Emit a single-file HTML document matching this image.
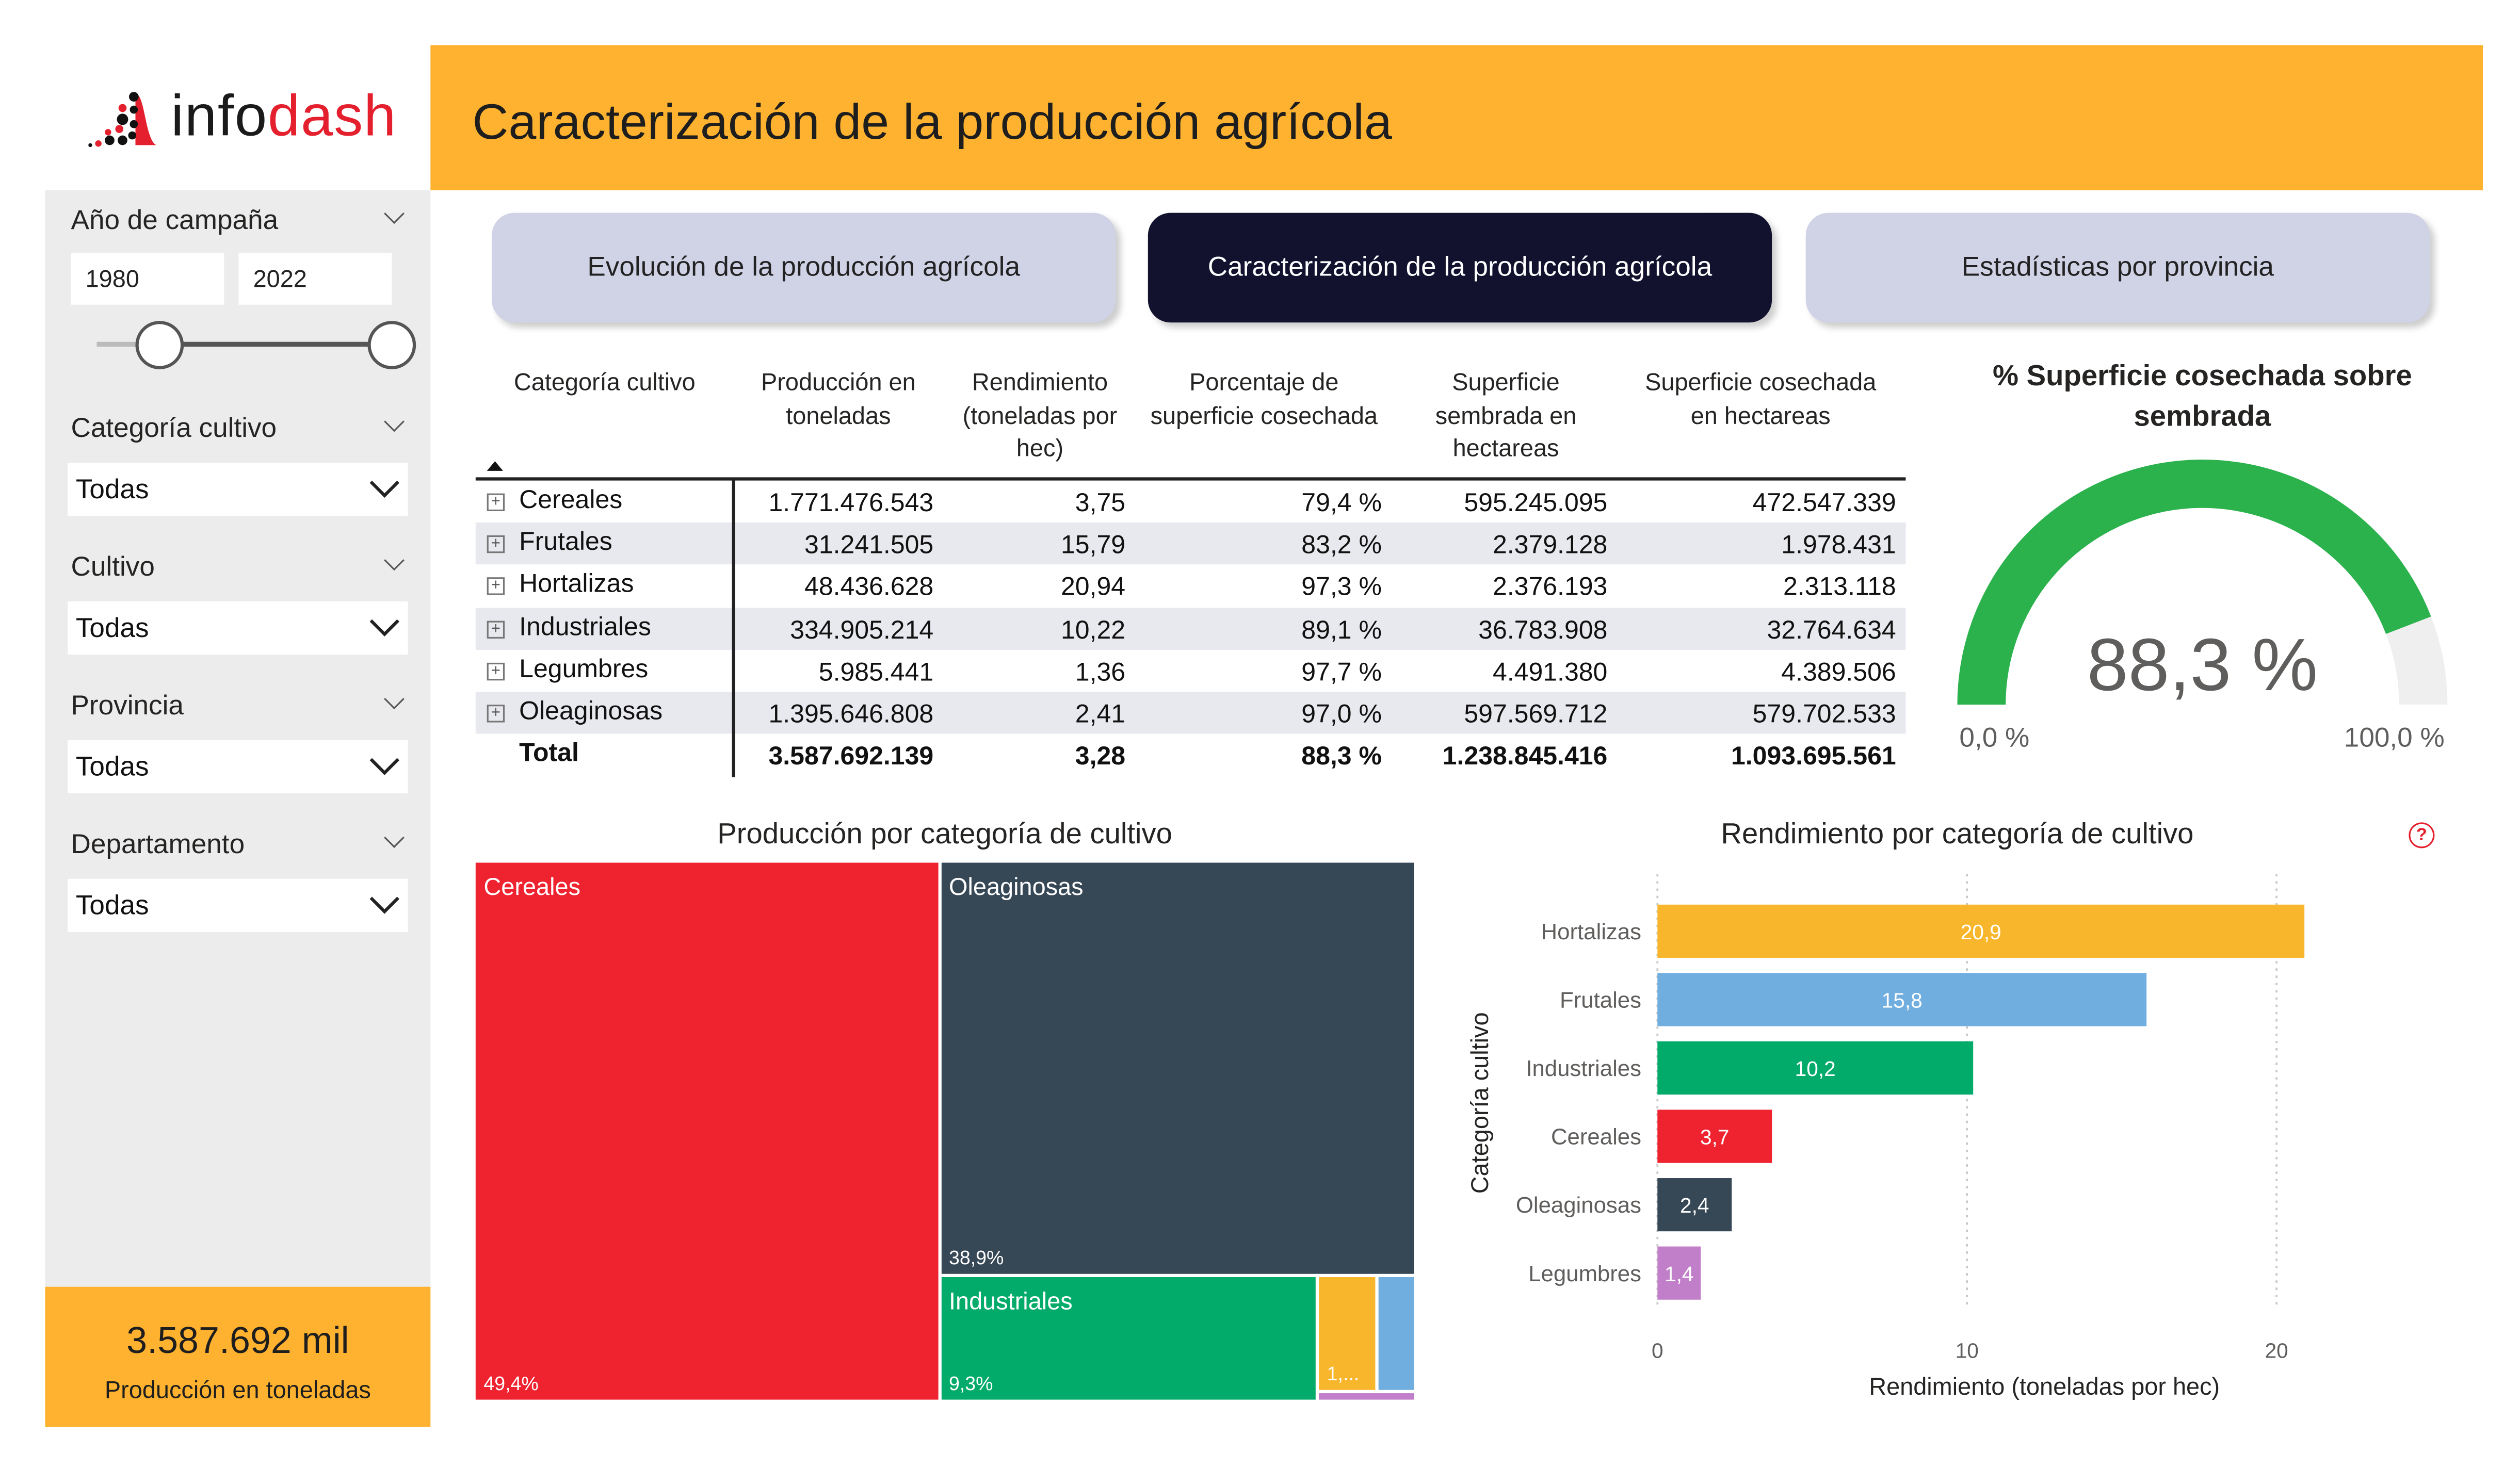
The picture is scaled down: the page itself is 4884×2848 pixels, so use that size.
<!DOCTYPE html>
<html><head><meta charset="utf-8">
<style>
html,body{margin:0;padding:0;width:4884px;height:2848px;overflow:hidden;background:#fff;}
#root{position:absolute;left:0;top:0;width:1563px;height:911px;transform:scale(3.12476,3.12623);transform-origin:0 0;font-family:"Liberation Sans",sans-serif;color:#222;}
.abs{position:absolute;}
.lbl{position:absolute;font-size:17px;color:#252423;}
.chev{position:absolute;width:8px;height:8px;border-right:1.5px solid #555;border-bottom:1.5px solid #555;transform:rotate(45deg);}
.dd{position:absolute;left:42px;width:211px;height:33px;background:#fff;}
.dd span{position:absolute;left:5px;top:7px;font-size:17px;color:#111;}
.dd i{position:absolute;right:8px;top:6px;width:11px;height:11px;border-right:2px solid #222;border-bottom:2px solid #222;transform:rotate(45deg);}
.btn{position:absolute;top:132px;height:68px;width:387px;border-radius:14px;font-size:17px;display:flex;align-items:center;justify-content:center;box-shadow:3px 3px 4px rgba(0,0,0,0.2);}
.th{position:absolute;top:228px;font-size:15px;text-align:center;line-height:20.5px;color:#252423;}
.row{position:absolute;left:295px;width:887px;height:26px;}
.cell{position:absolute;font-size:16px;top:4px;color:#111;}
</style></head><body>
<div id="root">
<!-- logo -->
<div class="abs" style="left:52px;top:55px;width:200px;height:40px;">
<svg width="48" height="36" viewBox="0 0 48 36" style="position:absolute;left:0;top:2px">
<path d="M32 1 C38 1 38 30 45 33 L32 33 Z" fill="#e5202e"/>
<circle cx="31" cy="3" r="3" fill="#111"/><circle cx="24" cy="10" r="2.5" fill="#e5202e"/><circle cx="31" cy="11" r="2.5" fill="#111"/>
<circle cx="24" cy="17" r="3.5" fill="#111"/><circle cx="22" cy="23" r="2.5" fill="#e5202e"/><circle cx="31" cy="20" r="2.5" fill="#111"/>
<circle cx="15" cy="25" r="2" fill="#e5202e"/><circle cx="16" cy="30" r="3" fill="#111"/><circle cx="24" cy="30" r="3" fill="#111"/>
<circle cx="9" cy="32" r="2" fill="#e5202e"/><circle cx="4" cy="33" r="1.2" fill="#111"/><circle cx="30" cy="27" r="2.5" fill="#111"/>
</svg>
<div class="abs" style="left:54px;top:-4px;font-size:36px;letter-spacing:0.5px;"><span style="color:#1a1a1a">info</span><span style="color:#e5202e">dash</span></div>
</div>
<!-- header -->
<div class="abs" style="left:267px;top:28px;width:1273px;height:90px;background:#feb22f;">
<div class="abs" style="left:26px;top:30px;font-size:31px;color:#1e1e1e;">Caracterización de la producción agrícola</div>
</div>
<!-- sidebar -->
<div class="abs" style="left:28px;top:118px;width:239px;height:767px;background:#ececec;"></div>
<div class="lbl" style="left:44px;top:127px;">Año de campaña</div>
<div class="chev" style="left:240px;top:128px"></div>
<div class="abs" style="left:44px;top:157px;width:95px;height:32px;background:#fff;"><span style="position:absolute;left:9px;top:8px;font-size:15px">1980</span></div>
<div class="abs" style="left:148px;top:157px;width:95px;height:32px;background:#fff;"><span style="position:absolute;left:9px;top:8px;font-size:15px">2022</span></div>
<div class="abs" style="left:60px;top:212px;width:196px;height:3px;background:#bbb;"></div>
<div class="abs" style="left:99px;top:212px;width:144px;height:3px;background:#555;"></div>
<div class="abs" style="left:84px;top:199px;width:26px;height:26px;border:2.5px solid #555;border-radius:50%;background:#fff;"></div>
<div class="abs" style="left:228px;top:199px;width:26px;height:26px;border:2.5px solid #555;border-radius:50%;background:#fff;"></div>

<div class="lbl" style="left:44px;top:256px;">Categoría cultivo</div>
<div class="chev" style="left:240px;top:257px"></div>
<div class="dd" style="top:287px"><span>Todas</span><i></i></div>
<div class="lbl" style="left:44px;top:342px;">Cultivo</div>
<div class="chev" style="left:240px;top:343px"></div>
<div class="dd" style="top:373px"><span>Todas</span><i></i></div>
<div class="lbl" style="left:44px;top:428px;">Provincia</div>
<div class="chev" style="left:240px;top:429px"></div>
<div class="dd" style="top:459px"><span>Todas</span><i></i></div>
<div class="lbl" style="left:44px;top:514px;">Departamento</div>
<div class="chev" style="left:240px;top:515px"></div>
<div class="dd" style="top:545px"><span>Todas</span><i></i></div>

<div class="abs" style="left:28px;top:798px;width:239px;height:87px;background:#feb22f;text-align:center;">
<div style="margin-top:20px;font-size:23px;color:#1e1e1e;">3.587.692 mil</div>
<div style="margin-top:9px;font-size:15px;color:#1e1e1e;">Producción en toneladas</div>
</div>
<!-- nav -->
<div class="btn" style="left:305px;background:#d0d3e6;color:#222;">Evolución de la producción agrícola</div>
<div class="btn" style="left:712px;background:#12122e;color:#fff;">Caracterización de la producción agrícola</div>
<div class="btn" style="left:1120px;background:#d0d3e6;color:#222;">Estadísticas por provincia</div>
<!-- table -->
<div class="th" style="left:305px;width:140px;">Categoría cultivo</div>
<div class="th" style="left:460px;width:120px;">Producción en toneladas</div>
<div class="th" style="left:590px;width:110px;">Rendimiento (toneladas por hec)</div>
<div class="th" style="left:708px;width:152px;">Porcentaje de superficie cosechada</div>
<div class="th" style="left:880px;width:108px;">Superficie sembrada en hectareas</div>
<div class="th" style="left:1012px;width:160px;">Superficie cosechada en hectareas</div>
<div class="abs" style="left:302px;top:286px;width:0;height:0;border-left:5px solid transparent;border-right:5px solid transparent;border-bottom:6px solid #111;"></div>
<div class="abs" style="left:295px;top:296px;width:887px;height:2px;background:#222;"></div>
<div id="tbody"></div>
<div class="abs" style="left:454px;top:297px;width:1.5px;height:185px;background:#222;"></div>
<!-- gauge -->
<div class="abs" style="left:1220px;top:221px;width:292px;text-align:center;font-size:18px;font-weight:bold;line-height:25px;color:#252423;">% Superficie cosechada sobre sembrada</div>
<svg class="abs" id="gauge" style="left:1200px;top:280px" width="340" height="200"></svg>
<!-- treemap -->
<div class="abs" style="left:295px;top:507px;width:582px;text-align:center;font-size:18px;color:#252423;">Producción por categoría de cultivo</div>
<div class="abs" id="treemap" style="left:295px;top:535px;width:582px;height:333px;"></div>
<!-- bar chart -->
<div class="abs" style="left:1000px;top:507px;width:428px;text-align:center;font-size:18px;color:#252423;">Rendimiento por categoría de cultivo</div>
<div class="abs" style="left:1494px;top:510px;width:14px;height:14px;border:1.5px solid #e5202e;border-radius:50%;color:#e5202e;font-size:11px;font-weight:bold;text-align:center;line-height:14px;">?</div>
<svg class="abs" id="bars" style="left:890px;top:530px" width="600" height="350"></svg>
</div>
<script>
// ---- table data
const rowNames=["Cereales","Frutales","Hortalizas","Industriales","Legumbres","Oleaginosas"];
const colProd=["1.771.476.543","31.241.505","48.436.628","334.905.214","5.985.441","1.395.646.808"];
const colRend=["3,75","15,79","20,94","10,22","1,36","2,41"];
const colPorc=["79,4 %","83,2 %","97,3 %","89,1 %","97,7 %","97,0 %"];
const colSem=["595.245.095","2.379.128","2.376.193","36.783.908","4.491.380","597.569.712"];
const colCos=["472.547.339","1.978.431","2.313.118","32.764.634","4.389.506","579.702.533"];
const totals=["3.587.692.139","3,28","88,3 %","1.238.845.416","1.093.695.561"];
const rights=[579,698,857,997,1176];
const tb=document.getElementById('tbody');
function mkRow(i,name,vals,bold){
  const r=document.createElement('div');
  r.className='row';
  
  
  r.style.top=(298+i*26.2)+'px';
  if(!bold && i%2==1) r.style.background='#e8e8ef';
  let h='';
  if(!bold) h+='<div style="position:absolute;left:7px;top:8px;width:9px;height:9px;border:1px solid #777;font-size:10px;line-height:9px;text-align:center;color:#555">+</div>';
  h+='<div class="cell" style="left:27px;'+(bold?'font-weight:bold;':'')+'">'+name+'</div>';
  vals.forEach((v,k)=>{h+='<div class="cell" style="right:'+(887-(rights[k]-295))+'px;top:6px;'+(bold?'font-weight:bold;':'')+'">'+v+'</div>';});
  r.innerHTML=h;tb.appendChild(r);
}
rowNames.forEach((n,i)=>mkRow(i,n,[colProd[i],colRend[i],colPorc[i],colSem[i],colCos[i]],false));
mkRow(6,"Total",totals,true);

// ---- gauge
const gaugeValue=88.3, gaugeMin=0, gaugeMax=100;
const g=document.getElementById('gauge');
const cx=166,cy=157,R=152,r0=122;
function pt(f,rad){const a=Math.PI*(1-f);return [cx+rad*Math.cos(a),cy-rad*Math.sin(a)];}
function arc(f0,f1,col,name){
  const a=pt(f0,R),b=pt(f1,R),c=pt(f1,r0),d=pt(f0,r0);
  const p=document.createElementNS('http://www.w3.org/2000/svg','path');
  p.setAttribute('d',`M${a[0]},${a[1]} A${R},${R} 0 0 1 ${b[0]},${b[1]} L${c[0]},${c[1]} A${r0},${r0} 0 0 0 ${d[0]},${d[1]} Z`);
  p.setAttribute('fill',col);
  
  
  g.appendChild(p);
}
const gf=(gaugeValue-gaugeMin)/(gaugeMax-gaugeMin);
arc(0,gf,'#2bb24c','gauge-value-arc');
arc(gf,1,'#efefef','gauge-remainder-arc');
function gtext(x,y,s,sz,col,name){
  const t=document.createElementNS('http://www.w3.org/2000/svg','text');
  t.setAttribute('x',x);t.setAttribute('y',y);t.setAttribute('text-anchor','middle');
  t.setAttribute('font-size',sz);t.setAttribute('fill',col);t.setAttribute('font-family','Liberation Sans, sans-serif');
  t.textContent=s;
  
  
  g.appendChild(t);
}
gtext(cx,148,gaugeValue.toFixed(1).replace('.',',')+' %',46,'#605e5c','gauge-value-label');
gtext(37,183,'0,0 %',17,'#605e5c','gauge-min-label');
gtext(285,183,'100,0 %',17,'#605e5c','gauge-max-label');

// ---- treemap (fixed layout from picture, share labels)
const tmCats=["Cereales","Oleaginosas","Industriales","Hortalizas","Frutales","Legumbres"];
const tmShares=[49.4,38.9,9.3,1.35,0.87,0.17];
const tmColors=["#ef2230","#364756","#03ab6b","#f8b62c","#70aee0","#c27fc9"];
const tm=document.getElementById('treemap');
const W=582,H=333,gap=2;
function box(i,x,y,w,h,showName,showPct){
  const d=document.createElement('div');
  
  
  d.style.cssText=`position:absolute;left:${x}px;top:${y}px;width:${w}px;height:${h}px;background:${tmColors[i]};overflow:hidden;color:#fff;`;
  let h2='';
  if(showName) h2+=`<div style="position:absolute;left:5px;top:7px;font-size:15px">${tmCats[i]}</div>`;
  if(showPct) h2+=`<div style="position:absolute;left:5px;bottom:3px;font-size:12px">${showPct}</div>`;
  d.innerHTML=h2;tm.appendChild(d);
}
const tot=tmShares.reduce((a,b)=>a+b,0);
const w0=W*tmShares[0]/tot;
box(0,0,0,w0-gap/2,H,true,'49,4%');
const restW=W-w0-gap/2,restS=tot-tmShares[0];
const x1=w0+gap/2;
const h1=H*tmShares[1]/restS;
box(1,x1,0,restW,h1-gap/2,true,'38,9%');
const y2=h1+gap/2,h2=H-y2;
const s2=restS-tmShares[1];
const w2=restW*tmShares[2]/s2;
box(2,x1,y2,w2-gap/2,h2,true,'9,3%');
const x3=x1+w2+gap/2, w3=restW-w2-gap/2;
const s3=s2-tmShares[2];
const hTop=h2*(tmShares[3]+tmShares[4])/s3;
const wH=w3*tmShares[3]/(tmShares[3]+tmShares[4]);
box(3,x3,y2,wH-gap/2,hTop-gap/2,false,'1,...');
box(4,x3+wH+gap/2,y2,w3-wH-gap/2,hTop-gap/2,false,'');
box(5,x3,y2+hTop+gap/2,w3,Math.max(2,h2-hTop-gap/2),false,'');

// ---- bar chart
const barCats=["Hortalizas","Frutales","Industriales","Cereales","Oleaginosas","Legumbres"];
const barVals=[20.9,15.8,10.2,3.7,2.4,1.4];
const barColors=["#f8b62c","#70aee0","#03ab6b","#ef2230","#364756","#c27fc9"];
const xTicks=[0,10,20];
const bs=document.getElementById('bars');
const X0=138,PX=19.2,Y0=30,STEP=42.4,BH=33;
const xs=v=>X0+v*PX;
const NS='http://www.w3.org/2000/svg';
function el(tag,attrs,name,txt){
  const e=document.createElementNS(NS,tag);
  for(const k in attrs) e.setAttribute(k,attrs[k]);
  if(txt!==undefined) e.textContent=txt;
  
  
  bs.appendChild(e);return e;
}
xTicks.forEach(t=>{
  el('line',{x1:xs(t),x2:xs(t),y1:12,y2:280,stroke:'#c8c8c8','stroke-dasharray':'1.5,3','stroke-width':1.2},'gridline-'+t);
  el('text',{x:xs(t),y:312,'text-anchor':'middle','font-size':13,fill:'#605e5c','font-family':'Liberation Sans, sans-serif'},'x-tick-'+t,String(t));
});
barCats.forEach((c,i)=>{
  const y=Y0+i*STEP+1;
  const r=el('rect',{x:xs(0),y:y,width:xs(barVals[i])-xs(0),height:BH,fill:barColors[i]},'bar-'+c.toLowerCase());
  
  el('text',{x:128,y:y+BH/2+5,'text-anchor':'end','font-size':14,fill:'#605e5c','font-family':'Liberation Sans, sans-serif'},'y-label-'+c.toLowerCase(),c);
  el('text',{x:(xs(0)+xs(barVals[i]))/2,y:y+BH/2+5,'text-anchor':'middle','font-size':13,fill:'#fff','font-family':'Liberation Sans, sans-serif'},'bar-value-'+c.toLowerCase(),barVals[i].toFixed(1).replace('.',','));
});
el('text',{x:378,y:335,'text-anchor':'middle','font-size':15,fill:'#252423','font-family':'Liberation Sans, sans-serif'},'x-axis-title','Rendimiento (toneladas por hec)');
el('text',{x:0,y:0,'text-anchor':'middle','font-size':15,fill:'#252423','font-family':'Liberation Sans, sans-serif',transform:'translate(33,154) rotate(-90)'},'y-axis-title','Categoría cultivo');
</script>
</body></html>
